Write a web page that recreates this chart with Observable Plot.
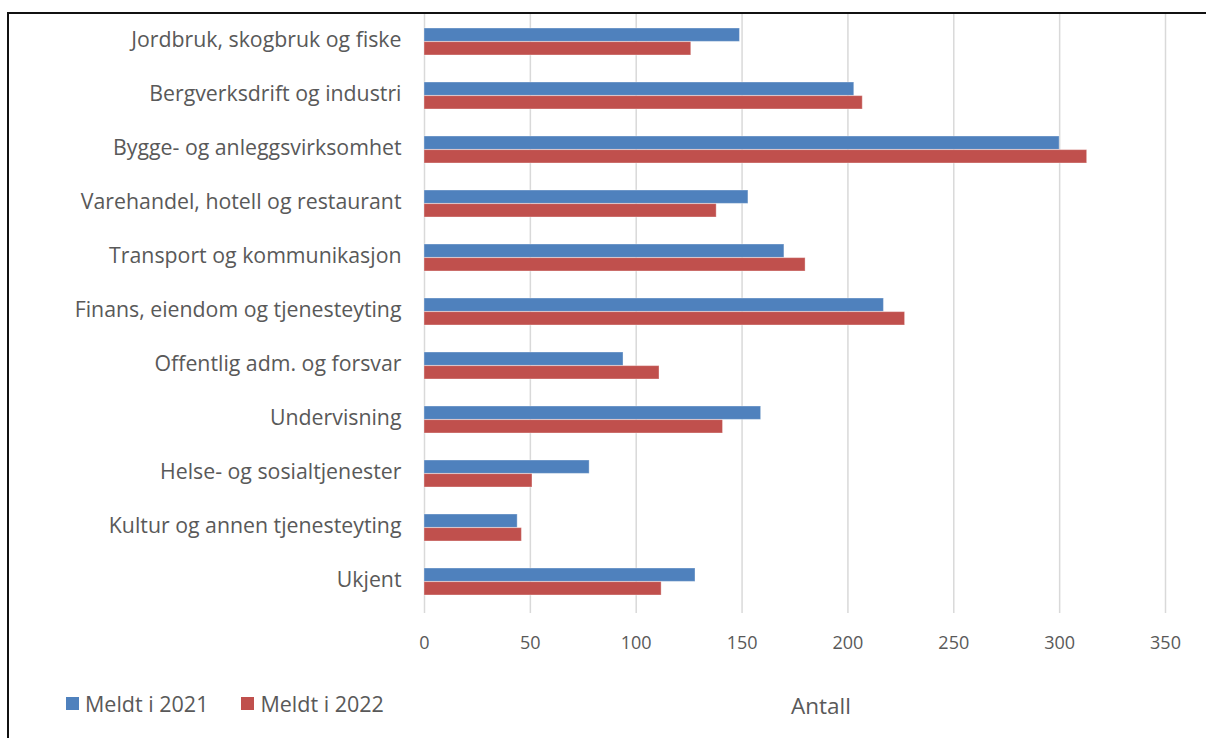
<!DOCTYPE html>
<html><head><meta charset="utf-8">
<script src="https://cdn.jsdelivr.net/npm/d3@7"></script>
<script src="https://cdn.jsdelivr.net/npm/@observablehq/plot@0.6"></script>
<style>
body{margin:0;background:#fff;}
#wrap{position:relative;width:1206px;height:738px;overflow:hidden;font-family:"Open Sans",Lato,sans-serif;}
#frame{position:absolute;left:7px;top:12px;width:1300px;height:800px;border:2px solid #111;box-sizing:border-box;}
#chart{position:absolute;left:0;top:0;}
#legend{position:absolute;left:66px;top:689px;display:flex;align-items:center;font-size:21.5px;color:#595959;}
.sw{display:inline-block;width:13px;height:13px;margin-right:6px;}
.item{display:flex;align-items:center;margin-right:33px;}
</style></head><body>
<div id="wrap"><div id="frame"></div><div id="chart"></div><div id="legend"></div></div>
<script>
const categories = [
  "Jordbruk, skogbruk og fiske",
  "Bergverksdrift og industri",
  "Bygge- og anleggsvirksomhet",
  "Varehandel, hotell og restaurant",
  "Transport og kommunikasjon",
  "Finans, eiendom og tjenesteyting",
  "Offentlig adm. og forsvar",
  "Undervisning",
  "Helse- og sosialtjenester",
  "Kultur og annen tjenesteyting",
  "Ukjent"
];
const series = ["Meldt i 2021", "Meldt i 2022"];
const values2021 = [149, 203, 300, 153, 170, 217, 94, 159, 78, 44, 128];
const values2022 = [126, 207, 313, 138, 180, 227, 111, 141, 51, 46, 112];
const colors = ["#4F81BD", "#C0504D"];
const xTicks = [0, 50, 100, 150, 200, 250, 300, 350];
const xLabel = "Antall";

const rows = categories.flatMap((c, i) => [
  {category: c, series: series[0], value: values2021[i]},
  {category: c, series: series[1], value: values2022[i]}
]);

const plot = Plot.plot({
  width: 1206, height: 738,
  marginLeft: 424, marginRight: 41, marginTop: 14, marginBottom: 125,
  style: {fontFamily: "'Open Sans', Lato, sans-serif", fontSize: "17px", color: "#595959", background: "transparent", overflow: "visible"},
  x: {domain: [0, 350], ticks: xTicks, label: null},
  y: {domain: categories, paddingInner: 0.5, paddingOuter: 0.24, align: 0.44, label: null},
  color: {domain: series, range: colors},
  marks: [
    Plot.gridX(xTicks, {stroke: "#D9D9D9", strokeOpacity: 1, strokeWidth: 1.5}),
    Plot.barX(rows.filter(d => d.series === series[0]), {x: "value", y: "category", fill: "series", insetBottom: 13.63, stroke: "#ffffff", strokeOpacity: 0.35, strokeWidth: 1}),
    Plot.barX(rows.filter(d => d.series === series[1]), {x: "value", y: "category", fill: "series", insetTop: 13.63, stroke: "#ffffff", strokeOpacity: 0.35, strokeWidth: 1}),
    Plot.axisX({ticks: xTicks, tickSize: 0, tickPadding: 23, fontSize: 18, label: null}),
    Plot.axisY({tickSize: 0, tickPadding: 23, fontSize: 21.3, dy: -2, label: null}),
    Plot.text([xLabel], {frameAnchor: "bottom", dx: 26, dy: 100, fontSize: 22.5, fill: "#595959"})
  ]
});
document.getElementById("chart").appendChild(plot);

const legend = document.getElementById("legend");
series.forEach((s, i) => {
  const item = document.createElement("div");
  item.className = "item";
  const sw = document.createElement("span");
  sw.className = "sw";
  sw.style.background = colors[i];
  const t = document.createElement("span");
  t.textContent = s;
  item.appendChild(sw); item.appendChild(t);
  legend.appendChild(item);
});
</script>
</body></html>
